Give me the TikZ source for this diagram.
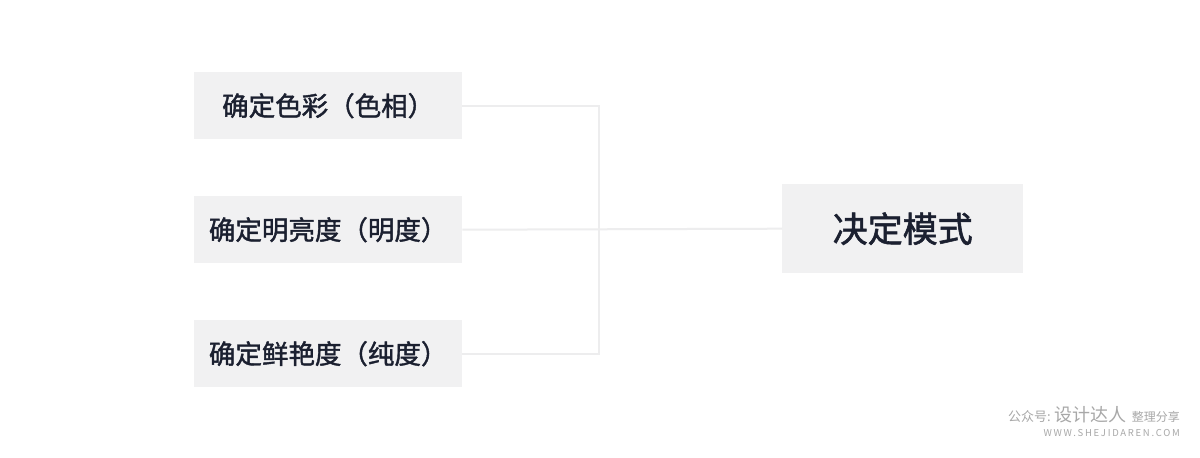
\documentclass[tikz,border=0pt]{standalone}
\usepackage{fontspec}
\newfontfamily\cjk{Noto Sans CJK SC}
\newfontfamily\cjkb[FakeBold=1.6]{Noto Sans CJK SC}
\newfontfamily\wmsans[LetterSpace=18]{Noto Sans CJK SC}
\definecolor{boxfill}{HTML}{F1F1F2}
\definecolor{txt}{HTML}{1B2030}
\definecolor{linec}{HTML}{EDEDEE}
\definecolor{wm}{HTML}{A8A8A8}
\tikzset{
  lbox/.style={fill=boxfill, draw=none, minimum width=268pt, minimum height=67pt, inner sep=0pt,
    font=\cjkb\fontsize{26.5}{30}\selectfont, text=txt, anchor=north west},
  rbox/.style={fill=boxfill, draw=none, minimum width=241pt, minimum height=89pt, inner sep=0pt,
    font=\cjkb\fontsize{35}{40}\selectfont, text=txt, anchor=north west},
  conn/.style={draw=linec, line width=2pt},
}
\begin{document}
\begin{tikzpicture}[x=1pt,y=-1pt]
\useasboundingbox (0,0) rectangle (1200,458);
\fill[white] (0,0) rectangle (1200,458);
\node[lbox] (a) at (194,72) {确定色彩（色相）};
\node[lbox] (b) at (194,196) {确定明亮度（明度）};
\node[lbox] (c) at (194,320) {确定鲜艳度（纯度）};
\node[rbox] (d) at (782,184) {决定模式};
\coordinate (j) at (599,229.5);
\draw[conn] (a.east) -| (j) |- (c.east);
\draw[conn] (b.east) -- (d.west);
\node[anchor=east, text=wm, font=\cjk\fontsize{13}{15}\selectfont, inner sep=0pt] (w1) at (1180,415) {公众号: {\fontsize{18}{20}\selectfont 设计达人}\, {\fontsize{12}{14}\selectfont 整理分享}};
\node[anchor=east, text=wm, font=\wmsans\fontsize{9.5}{11}\selectfont, inner sep=0pt] (w2) at (1180,433) {WWW.SHEJIDAREN.COM};
\end{tikzpicture}
\end{document}
